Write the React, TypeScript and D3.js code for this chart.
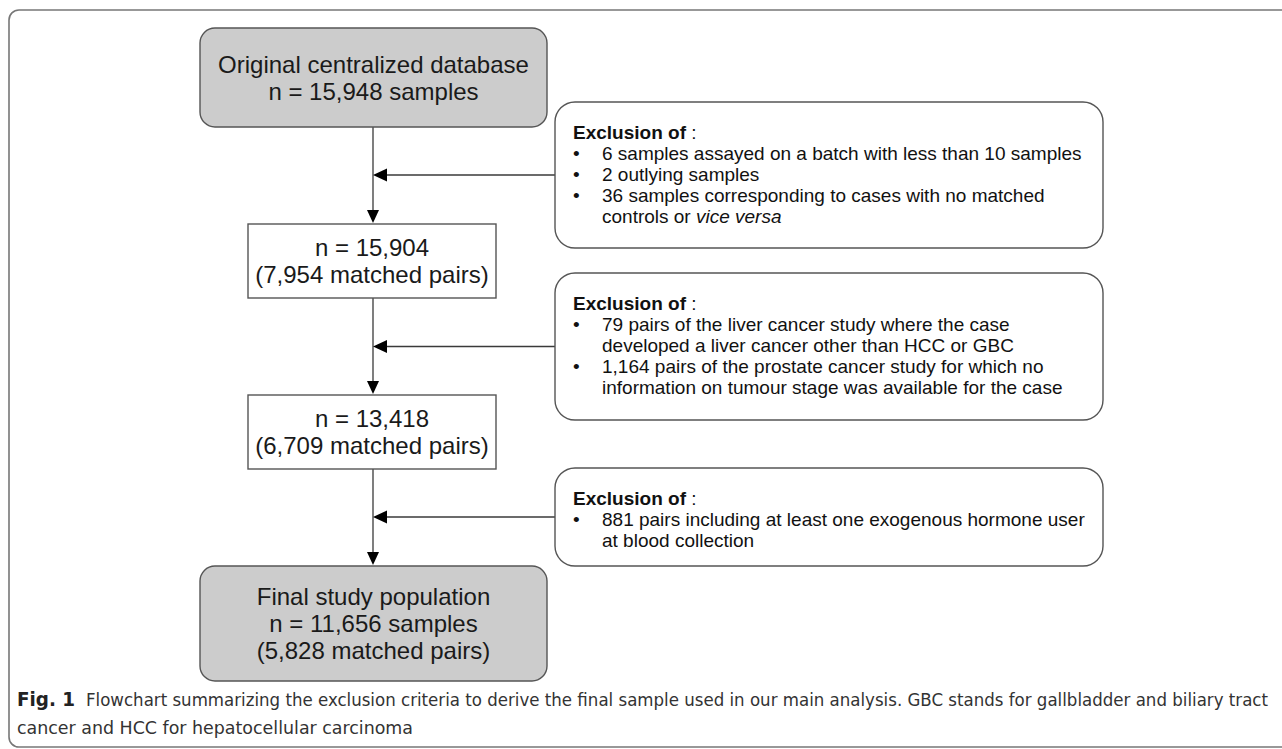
import React from "react";
import * as d3 from "d3";

// ---- Data ----
const mainNodeLines: string[][] = [
  ["Original centralized database", "n = 15,948 samples"],
  ["n = 15,904", "(7,954 matched pairs)"],
  ["n = 13,418", "(6,709 matched pairs)"],
  ["Final study population", "n = 11,656 samples", "(5,828 matched pairs)"],
];
const mainNodeShaded = [true, false, false, true];

const exclusionHeader = "Exclusion of";
// each bullet: array of lines; a line is array of [text, italic]
const exclusion1: [string, boolean][][][] = [
  [[["6 samples assayed on a batch with less than 10 samples", false]]],
  [[["2 outlying samples", false]]],
  [
    [["36 samples corresponding to cases with no matched", false]],
    [["controls or ", false], ["vice versa", true]],
  ],
];
const exclusion2: [string, boolean][][][] = [
  [
    [["79 pairs of the liver cancer study where the case", false]],
    [["developed a liver cancer other than HCC or GBC", false]],
  ],
  [
    [["1,164 pairs of the prostate cancer study for which no", false]],
    [["information on tumour stage was available for the case", false]],
  ],
];
const exclusion3: [string, boolean][][][] = [
  [
    [["881 pairs including at least one exogenous hormone user", false]],
    [["at blood collection", false]],
  ],
];
const exclusions = [exclusion1, exclusion2, exclusion3];

const captionBold = "Fig. 1";
const captionLine1 =
  "Flowchart summarizing the exclusion criteria to derive the final sample used in our main analysis. GBC stands for gallbladder and biliary tract";
const captionLine2 = "cancer and HCC for hepatocellular carcinoma";

// ---- Layout ----
const W = 1282;
const H = 749;
const cx = 373;
const mainBoxes = [
  { x0: 200, x1: 547, y0: 28, y1: 127, rx: 15 },
  { x0: 248, x1: 496, y0: 224, y1: 298, rx: 0 },
  { x0: 248, x1: 496, y0: 395, y1: 469, rx: 0 },
  { x0: 200, x1: 547, y0: 566, y1: 681, rx: 15 },
];
const exBoxes = [
  { x0: 555, x1: 1103, y0: 102, y1: 248 },
  { x0: 555, x1: 1103, y0: 273, y1: 420 },
  { x0: 555, x1: 1103, y0: 468, y1: 566 },
];

const STROKE = "#555";
const LINE = "#3a3a3a";
const FONT = "'Liberation Sans', Arial, sans-serif";
const CAP_FONT = "'DejaVu Sans Condensed', 'Liberation Sans', sans-serif";
const MAIN_FS = 24;
const MAIN_LH = 27;
const EX_FS = 19;
const EX_LH = 21;

function downArrow(x: number, tipY: number) {
  const p = d3.path();
  p.moveTo(x, tipY);
  p.lineTo(x - 6, tipY - 13);
  p.lineTo(x + 6, tipY - 13);
  p.closePath();
  return p.toString();
}
function leftArrow(tipX: number, y: number) {
  const p = d3.path();
  p.moveTo(tipX, y);
  p.lineTo(tipX + 14, y - 6.5);
  p.lineTo(tipX + 14, y + 6.5);
  p.closePath();
  return p.toString();
}

export default function App() {
  return (
    <svg
      width={W}
      height={H}
      style={{ position: "absolute", left: 0, top: 0, background: "#fff" }}
    >
      {/* outer frame */}
      <rect x={9} y={10} width={1300} height={737} rx={10} fill="none" stroke="#777" strokeWidth={1.6} />

      {/* vertical connectors */}
      {mainBoxes.slice(0, 3).map((b, i) => {
        const next = mainBoxes[i + 1];
        return (
          <g key={"v" + i}>
            <line x1={cx} x2={cx} y1={b.y1} y2={next.y0 - 12} stroke={LINE} strokeWidth={1.3} />
            <path d={downArrow(cx, next.y0 - 1)} fill="#000" />
          </g>
        );
      })}

      {/* horizontal connectors */}
      {exBoxes.map((b, i) => {
        const y = (b.y0 + b.y1) / 2;
        return (
          <g key={"h" + i}>
            <line x1={cx + 12} x2={b.x0} y1={y} y2={y} stroke={LINE} strokeWidth={1.3} />
            <path d={leftArrow(cx, y)} fill="#000" />
          </g>
        );
      })}

      {/* main boxes */}
      {mainBoxes.map((b, i) => {
        const lines = mainNodeLines[i];
        const mid = (b.y0 + b.y1) / 2;
        const first = mid - ((lines.length - 1) * MAIN_LH) / 2 + MAIN_FS * 0.36;
        return (
          <g key={"m" + i}>
            <rect
              x={b.x0}
              y={b.y0}
              width={b.x1 - b.x0}
              height={b.y1 - b.y0}
              rx={b.rx}
              fill={mainNodeShaded[i] ? "#cccccc" : "#fff"}
              stroke={STROKE}
              strokeWidth={1.4}
            />
            {lines.map((t, j) => (
              <text
                key={j}
                x={(b.x0 + b.x1) / 2}
                y={first + j * MAIN_LH}
                textAnchor="middle"
                fontFamily={FONT}
                fontSize={MAIN_FS}
                fill="#1a1a1a"
              >
                {t}
              </text>
            ))}
          </g>
        );
      })}

      {/* exclusion boxes */}
      {exBoxes.map((b, i) => {
        const bullets = exclusions[i];
        let lineIdx = 1;
        const baseY = b.y0 + 37;
        return (
          <g key={"e" + i}>
            <rect
              x={b.x0}
              y={b.y0}
              width={b.x1 - b.x0}
              height={b.y1 - b.y0}
              rx={20}
              fill="#fff"
              stroke={STROKE}
              strokeWidth={1.4}
            />
            <text x={b.x0 + 18} y={baseY} fontFamily={FONT} fontSize={EX_FS} fill="#111">
              <tspan fontWeight="bold">{exclusionHeader}</tspan>
              <tspan> :</tspan>
            </text>
            {bullets.map((bl, k) => {
              const startIdx = lineIdx;
              lineIdx += bl.length;
              return (
                <g key={k}>
                  <text x={b.x0 + 18} y={baseY + startIdx * EX_LH} fontFamily={FONT} fontSize={EX_FS} fill="#111">
                    •
                  </text>
                  {bl.map((ln, m) => (
                    <text
                      key={m}
                      x={b.x0 + 47}
                      y={baseY + (startIdx + m) * EX_LH}
                      fontFamily={FONT}
                      fontSize={EX_FS}
                      fill="#111"
                    >
                      {ln.map(([t, it], q) => (
                        <tspan key={q} fontStyle={it ? "italic" : "normal"}>
                          {t}
                        </tspan>
                      ))}
                    </text>
                  ))}
                </g>
              );
            })}
          </g>
        );
      })}

      {/* caption */}
      <text
        x={17}
        y={706}
        fontFamily={CAP_FONT}
        fontSize={20}
        fontWeight="bold"
        fill="#222"
        textLength={58}
        lengthAdjust="spacingAndGlyphs"
      >
        {captionBold}
      </text>
      <text
        x={86}
        y={706}
        fontFamily={CAP_FONT}
        fontSize={18}
        fill="#333"
        textLength={1182}
        lengthAdjust="spacingAndGlyphs"
      >
        {captionLine1}
      </text>
      <text
        x={17}
        y={734}
        fontFamily={CAP_FONT}
        fontSize={18}
        fill="#333"
        textLength={396}
        lengthAdjust="spacingAndGlyphs"
      >
        {captionLine2}
      </text>
    </svg>
  );
}
